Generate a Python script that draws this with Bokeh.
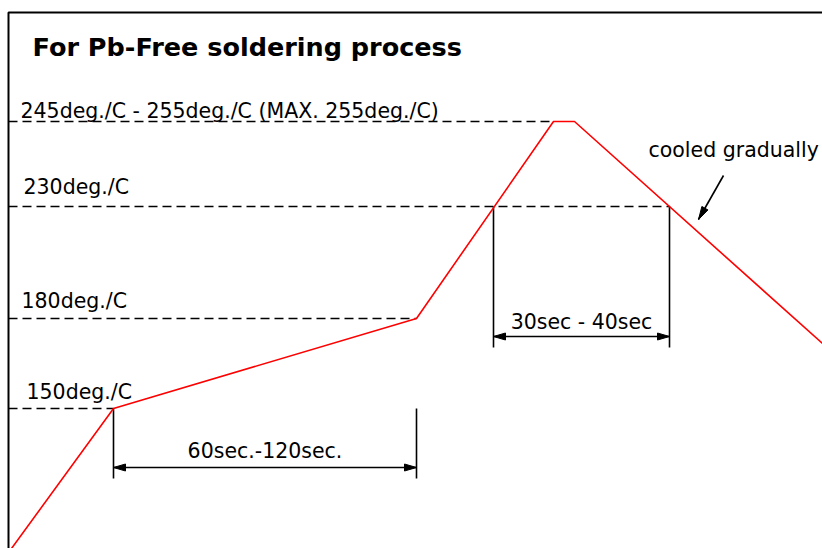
import math
from bokeh.plotting import figure
from bokeh.models import Range1d
from bokeh.core.properties import value
from bokeh.embed import file_html
from bokeh.resources import INLINE

W, H = 822, 548

# Schematic reflow profile (schematic time units, schematic temperature height)
profile_t = [11, 113, 416, 553, 574, 822]
profile_h = [0, 140, 230, 427, 427, 205]

# Temperature levels (schematic heights) and their labels
level_labels = ["150deg./C", "180deg./C", "230deg./C",
                "245deg./C - 255deg./C (MAX. 255deg./C)"]
level_h = [140, 230, 342, 427]
level_end_t = [113, 416, 669, 553]
label_t = [26, 21, 23, 20]
label_h = [157, 248, 362, 438]

# Duration brackets
dur_labels = ["60sec.-120sec.", "30sec - 40sec"]
dur_start = [113, 493]
dur_end = [416, 669]
dur_top = [140, 342]
dur_bottom = [70, 201]
dur_arrow_h = [81, 212]
dur_label_h = [98, 227]

# Note
note = "cooled gradually"
note_t, note_h = 648, 399
note_from = (723, 373)
note_to = (698, 329)

title = "For Pb-Free soldering process"
title_t, title_h = 32, 502

frame_top = 536
frame_left = 8

FONT = value("DejaVu Sans")
LBL = "20.5px"

p = figure(width=W, height=H, x_range=Range1d(0, W), y_range=Range1d(0, H),
           output_backend="svg", toolbar_location=None, min_border=0,
           x_axis_location=None, y_axis_location=None, outline_line_color=None,
           background_fill_color="white", border_fill_color="white")
p.grid.visible = False

# frame (top and left edges)
p.line([frame_left, frame_left, W], [0, frame_top, frame_top], line_color="black", line_width=2)

# dashed level lines
p.multi_line([[frame_left, e] for e in level_end_t], [[h, h] for h in level_h],
             line_color="black", line_width=1.6, line_dash="9 5")

# vertical bracket lines
vx, vy = [], []
for s, e, t, b in zip(dur_start, dur_end, dur_top, dur_bottom):
    vx += [[s, s], [e, e]]
    vy += [[t, b], [t, b]]
p.multi_line(vx, vy, line_color="black", line_width=1.6)


def head(tip, d, length=12.0, half=3.5):
    dx, dy = d
    n = math.hypot(dx, dy)
    ux, uy = dx / n, dy / n
    bx, by = tip[0] - ux * length, tip[1] - uy * length
    px, py = -uy * half, ux * half
    return [tip[0], bx + px, bx - px], [tip[1], by + py, by - py]


hx, hy = [], []
sx, sy = [], []
for s, e, h in zip(dur_start, dur_end, dur_arrow_h):
    sx.append([s, e]); sy.append([h, h])
    a = head((s, h), (-1, 0)); hx.append(a[0]); hy.append(a[1])
    b = head((e, h), (1, 0)); hx.append(b[0]); hy.append(b[1])
sx.append([note_from[0], note_to[0]]); sy.append([note_from[1], note_to[1]])
c = head(note_to, (note_to[0] - note_from[0], note_to[1] - note_from[1]), 13, 3.5)
hx.append(c[0]); hy.append(c[1])
p.multi_line(sx, sy, line_color="black", line_width=1.6)
p.patches(hx, hy, fill_color="black", line_color="black", line_width=1)

# profile
p.line(profile_t, profile_h, line_color="#ff0000", line_width=1.6)

# texts
p.text(x=label_t, y=label_h, text=level_labels, text_font=FONT, text_font_size=LBL,
       text_color="black", text_baseline="alphabetic", text_align="left")
p.text(x=[(s + e) / 2 for s, e in zip(dur_start, dur_end)], y=dur_label_h, text=dur_labels,
       text_font=FONT, text_font_size=LBL, text_color="black",
       text_baseline="alphabetic", text_align="center")
p.text(x=[note_t], y=[note_h], text=[note], text_font=FONT, text_font_size=LBL,
       text_color="black", text_baseline="alphabetic", text_align="left")
p.text(x=[title_t], y=[title_h], text=[title], text_font=FONT, text_font_size="25.5px",
       text_font_style="bold", text_color="black", text_baseline="alphabetic",
       text_align="left")

open("out.html", "w").write(file_html(p, INLINE))
